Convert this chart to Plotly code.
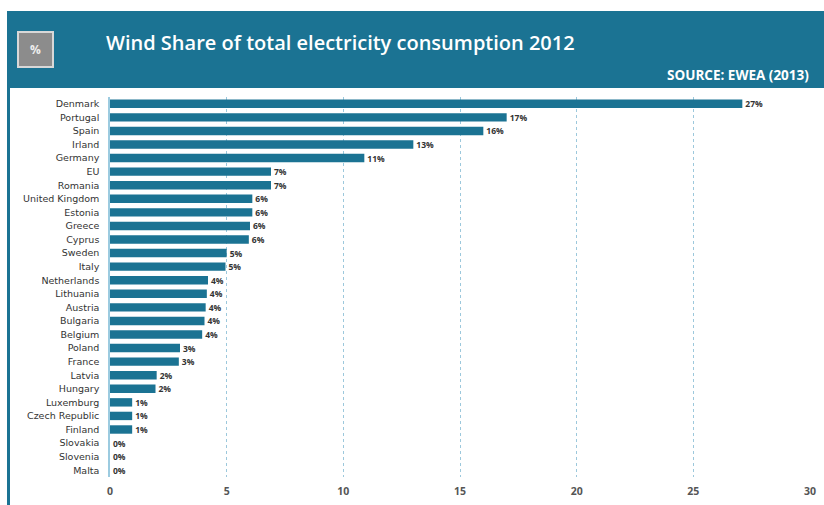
import plotly.graph_objects as go

countries = ["Denmark", "Portugal", "Spain", "Irland", "Germany", "EU", "Romania",
             "United Kingdom", "Estonia", "Greece", "Cyprus", "Sweden", "Italy",
             "Netherlands", "Lithuania", "Austria", "Bulgaria", "Belgium", "Poland",
             "France", "Latvia", "Hungary", "Luxemburg", "Czech Republic", "Finland",
             "Slovakia", "Slovenia", "Malta"]
shares = [27.1, 17.0, 16.0, 13.0, 10.9, 6.9, 6.9,
          6.1, 6.1, 6.0, 5.95, 5.0, 4.95,
          4.2, 4.15, 4.1, 4.05, 3.95, 3.0,
          2.95, 2.0, 1.95, 0.95, 0.95, 0.95,
          0.0, 0.0, 0.0]
x_ticks = [0, 5, 10, 15, 20, 25, 30]

TEAL = "#1b7393"
W, H = 824, 505
ML, MR, MT, MB = 110, 14, 97, 28
PW, PH = W - ML - MR, H - MT - MB

def px(x):
    return (x - ML) / PW

def py(y):
    return (H - MB - y) / PH

fig = go.Figure(go.Bar(
    x=shares, y=countries, orientation="h",
    marker=dict(color=TEAL, line=dict(width=0)),
    text=[f"<b>{round(v)}%</b>" for v in shares],
    textposition="outside", cliponaxis=False, constraintext="none",
    textfont=dict(family="Open Sans", size=8.5, color="#333333"),
    hoverinfo="skip",
))

shapes = [
    dict(type="rect", xref="paper", yref="paper", x0=px(7), x1=px(826), y0=py(88), y1=py(11),
         fillcolor=TEAL, line=dict(width=0), layer="below"),
    dict(type="rect", xref="paper", yref="paper", x0=px(7), x1=px(10), y0=py(506), y1=py(88),
         fillcolor=TEAL, line=dict(width=0), layer="below"),
    dict(type="rect", xref="paper", yref="paper", x0=px(18), x1=px(53), y0=py(67), y1=py(32),
         fillcolor="#8c8c8c", line=dict(width=2, color="#d8d8d8")),
]

annotations = [
    dict(text="<b>%</b>", xref="paper", yref="paper", x=px(35.5), y=py(50), showarrow=False,
         font=dict(family="Open Sans", size=12, color="#eeeeee"), xanchor="center", yanchor="middle"),
    dict(text="Wind Share of total electricity consumption 2012", xref="paper", yref="paper",
         x=px(104), y=py(42), showarrow=False, xanchor="left", yanchor="middle",
         font=dict(family="Open Sans", size=20, color="white", weight=600)),
    dict(text="<b>SOURCE: EWEA (2013)</b>", xref="paper", yref="paper",
         x=px(665), y=py(75), showarrow=False, xanchor="left", yanchor="middle",
         font=dict(family="Open Sans", size=13.5, color="white")),
]

fig.update_layout(
    width=W, height=H,
    margin=dict(l=ML, r=MR, t=MT, b=MB, pad=0, autoexpand=False),
    paper_bgcolor="white", plot_bgcolor="white",
    bargap=0.38, showlegend=False,
    shapes=shapes, annotations=annotations,
    xaxis=dict(range=[0, 30], tickvals=x_ticks, ticktext=[f"<b>{t}</b>" for t in x_ticks],
               showgrid=True, gridcolor="#9cc8dc", griddash="dot", gridwidth=1,
               zeroline=False, showline=False, ticks="", ticklabelstandoff=6,
               automargin=False,
               tickfont=dict(family="Open Sans", size=10.5, color="#555555")),
    yaxis=dict(autorange="reversed", showgrid=False, zeroline=False,
               showline=True, linecolor="#9ccbe0", linewidth=1.5,
               ticks="", ticklabelstandoff=7, automargin=False,
               tickfont=dict(family="DejaVu Sans", size=9.5, color="#333333")),
    font=dict(family="Open Sans"),
)

fig.write_html("out.html")
